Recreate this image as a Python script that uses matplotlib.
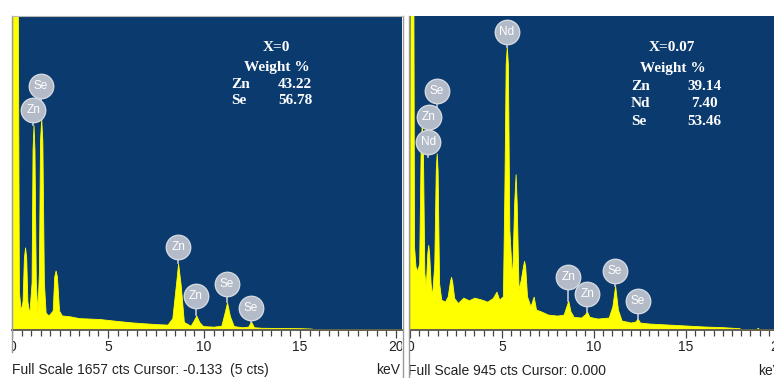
import numpy as np
import matplotlib.pyplot as plt
from matplotlib.lines import Line2D
from matplotlib.patches import Rectangle

# EDS spectra (energy keV, counts)
left_kev = [0.00, 0.04, 0.30, 0.36, 0.45, 0.55, 0.62, 0.68, 0.74, 0.80, 0.90, 1.02,
            1.07, 1.12, 1.17, 1.24, 1.32, 1.40, 1.46, 1.52, 1.58, 1.66, 1.75, 1.90,
            2.12, 2.20, 2.27, 2.34, 2.45, 2.60, 3.00, 3.50, 4.00, 4.60, 5.50, 6.30,
            7.00, 7.60, 8.10, 8.35, 8.55, 8.65, 8.78, 8.95, 9.30, 9.45, 9.60, 9.75,
            9.95, 10.5, 10.9, 11.05, 11.2, 11.35, 11.55, 12.0, 12.3, 12.45, 12.6,
            13.0, 14.0, 15.0, 15.6, 15.7, 20.5]
left_cts = [0, 1800, 1800, 200, 100, 150, 380, 434, 380, 150, 80, 250,
            950, 1080, 950, 250, 90, 300, 1000, 1116, 1000, 250, 90, 74,
            100, 280, 312, 280, 100, 74, 70, 60, 58, 55, 45, 37,
            32, 28, 26, 60, 250, 349, 240, 40, 20, 45, 74, 40,
            18, 15, 20, 80, 143, 70, 18, 12, 15, 42, 12,
            9, 8, 7, 5, 0, 0]

right_kev = [0.00, 0.03, 0.18, 0.22, 0.30, 0.40, 0.50, 0.58, 0.64, 0.70, 0.78, 0.86,
             0.94, 0.99, 1.04, 1.12, 1.20, 1.32, 1.40, 1.45, 1.50, 1.58, 1.70, 1.90,
             2.05, 2.17, 2.23, 2.29, 2.40, 2.60, 2.90, 3.20, 3.50, 3.90, 4.20, 4.50,
             4.70, 4.85, 5.05, 5.13, 5.20, 5.26, 5.32, 5.40, 5.55, 5.66, 5.74, 5.80,
             5.90, 6.02, 6.14, 6.20, 6.26, 6.36, 6.55, 6.72, 6.85, 7.10, 7.50, 8.00,
             8.35, 8.50, 8.60, 8.72, 8.90, 9.30, 9.50, 9.62, 9.75, 10.2, 10.8, 11.0,
             11.15, 11.3, 11.5, 12.0, 12.25, 12.37, 12.5, 13.0, 14.0, 15.0, 16.0,
             17.0, 17.9, 18.0, 18.8, 18.9, 19.0, 21.0]
right_cts = [0, 1100, 1100, 250, 190, 177, 200, 550, 620, 550, 170, 130,
             230, 255, 230, 140, 100, 200, 480, 531, 480, 140, 90, 84,
             100, 145, 159, 145, 95, 80, 96, 88, 96, 90, 84, 95,
             114, 90, 100, 420, 800, 852, 800, 300, 150, 380, 468, 380,
             120, 150, 190, 207, 190, 100, 70, 99, 60, 55, 45, 42,
             45, 70, 87, 55, 38, 36, 45, 54, 38, 33, 36, 70,
             132, 60, 27, 21, 24, 33, 21, 18, 15, 12, 9,
             7, 4, 0, 0, 5, 0, 0]

left_full_scale = 1657
right_full_scale = 945

# peak markers: element, energy, circle level, stem tip
left_lbl = ['Se', 'Zn', 'Zn', 'Zn', 'Se', 'Se']
left_lbl_kev = [1.49, 1.11, 8.65, 9.58, 11.2, 12.45]
left_lbl_cts = [1286, 1159, 434, 175, 238, 116]
left_lbl_tip = [1116, 1079, 349, 74, 143, 42]

right_lbl = ['Se', 'Zn', 'Nd', 'Nd', 'Zn', 'Zn', 'Se', 'Se']
right_lbl_kev = [1.45, 1.03, 0.99, 5.27, 8.6, 9.64, 11.14, 12.37]
right_lbl_cts = [720, 642, 564, 898, 159, 108, 177, 87]
right_lbl_tip = [669, 600, 519, 852, 87, 54, 132, 33]

# composition boxes
left_title = 'X=0'
left_elem = ['Zn', 'Se']
left_wt = ['43.22', '56.78']
right_title = 'X=0.07'
right_elem = ['Zn', 'Nd', 'Se']
right_wt = ['39.14', '7.40', '53.46']

left_footer = 'Full Scale 1657 cts Cursor: -0.133  (5 cts)'
right_footer = 'Full Scale 945 cts Cursor: 0.000'

W, H = 774, 378
blue = '#0b3a6e'
yellow = '#ffff00'
frame = '#9a9a9a'

fig = plt.figure(figsize=(W / 100, H / 100), dpi=100)
fig.patch.set_facecolor('white')

top, bottom = 16, 329.5
ax_b = 1 - bottom / H
ax_h = (bottom - top) / H
x_end = 20.31

ax1 = fig.add_axes([12 / W, ax_b, 390 / W, ax_h])
ax2 = fig.add_axes([410 / W, ax_b, x_end * 18.4 / W, ax_h])


def draw_panel(ax, kev, cts, full, lbl, lbl_kev, lbl_cts, lbl_tip):
    ax.set_facecolor(blue)
    ax.fill_between(kev, cts, 0, color=yellow, lw=0.6, edgecolor=yellow, zorder=2)
    ax.set_xlim(0, x_end)
    ax.set_ylim(0, full)
    for s in ['top', 'left', 'right']:
        ax.spines[s].set_visible(False)
    ax.spines['bottom'].set_color('#555555')
    ax.spines['bottom'].set_linewidth(1.3)
    ax.set_yticks([])
    ax.set_xticks([0, 5, 10, 15, 20])
    ax.set_xticks(np.arange(0, 20.5, 0.5), minor=True)
    ax.tick_params(axis='x', which='major', length=5.5, width=0.9, color='#444444',
                   pad=2, labelsize=10, labelcolor='#222222')
    ax.tick_params(axis='x', which='minor', length=4, width=0.9, color='#444444')
    for lab in ax.get_xticklabels():
        lab.set_fontfamily('Liberation Sans')
    for name, x, y, tip in zip(lbl, lbl_kev, lbl_cts, lbl_tip):
        ax.plot([x, x], [tip, y], color='#c4cad4', lw=1.2, zorder=3)
        ax.scatter([x], [y], s=310, color='#b3bbc8', edgecolors='#d3d8e0',
                   linewidths=1.0, zorder=4)
        ax.text(x, y, name, color='white', ha='center', va='center', fontsize=8.5,
                family='Liberation Sans', zorder=5)


draw_panel(ax1, left_kev, left_cts, left_full_scale,
           left_lbl, left_lbl_kev, left_lbl_cts, left_lbl_tip)
draw_panel(ax2, right_kev, right_cts, right_full_scale,
           right_lbl, right_lbl_kev, right_lbl_cts, right_lbl_tip)

serif = dict(color='white', fontweight='bold', family='Liberation Serif', fontsize=11,
             va='center')


def comp_box(ax, title, elem, wt, xc, xl, xv, y0, y1, dy):
    ax.text(xc, y0, title, ha='center', transform=ax.transAxes, **serif)
    ax.text(xc, y1, 'Weight %', ha='center', transform=ax.transAxes, **serif)
    for i, (e, w) in enumerate(zip(elem, wt)):
        yy = y1 - (i + 1) * dy
        ax.text(xl, yy, e, ha='left', transform=ax.transAxes, **serif)
        ax.text(xv, yy, w, ha='center', transform=ax.transAxes, **serif)


comp_box(ax1, left_title, left_elem, left_wt, 0.679, 0.5615, 0.726, 0.898, 0.837, 0.054)
comp_box(ax2, right_title, right_elem, right_wt, 0.702, 0.591, 0.787, 0.901, 0.831, 0.0555)

# footer texts
foot = dict(fontsize=10, family='Liberation Sans', color='#222222', va='center')
fig.text(12 / W, 1 - 370 / H, left_footer, ha='left', **foot)
fig.text(400 / W, 1 - 370 / H, 'keV', ha='right', **foot)
fig.text(408 / W, 1 - 371 / H, right_footer, ha='left', **foot)
fig.text(782 / W, 1 - 371 / H, 'keV', ha='right', **foot)

# white strips hiding the left halves of the "0" labels, and frame lines
fig.add_artist(Rectangle((0, 1 - 360 / H), 11.5 / W, 28 / H, transform=fig.transFigure,
                         facecolor='white', edgecolor='none', zorder=5))
fig.add_artist(Rectangle((402 / W, 1 - 360 / H), 7.5 / W, 28 / H, transform=fig.transFigure,
                         facecolor='white', edgecolor='none', zorder=5))
for x, y0, y1 in [(11.5, 16, 352), (402.5, 16, 378), (408.5, 16, 378)]:
    fig.add_artist(Line2D([x / W, x / W], [1 - y0 / H, 1 - y1 / H], transform=fig.transFigure,
                          color=frame, lw=1.0, zorder=6))
fig.add_artist(Line2D([11.5 / W, 402.5 / W], [1 - 15.5 / H, 1 - 15.5 / H],
                      transform=fig.transFigure, color='#b8b8b8', lw=0.8, zorder=6))

fig.savefig('out.png', dpi=100)
